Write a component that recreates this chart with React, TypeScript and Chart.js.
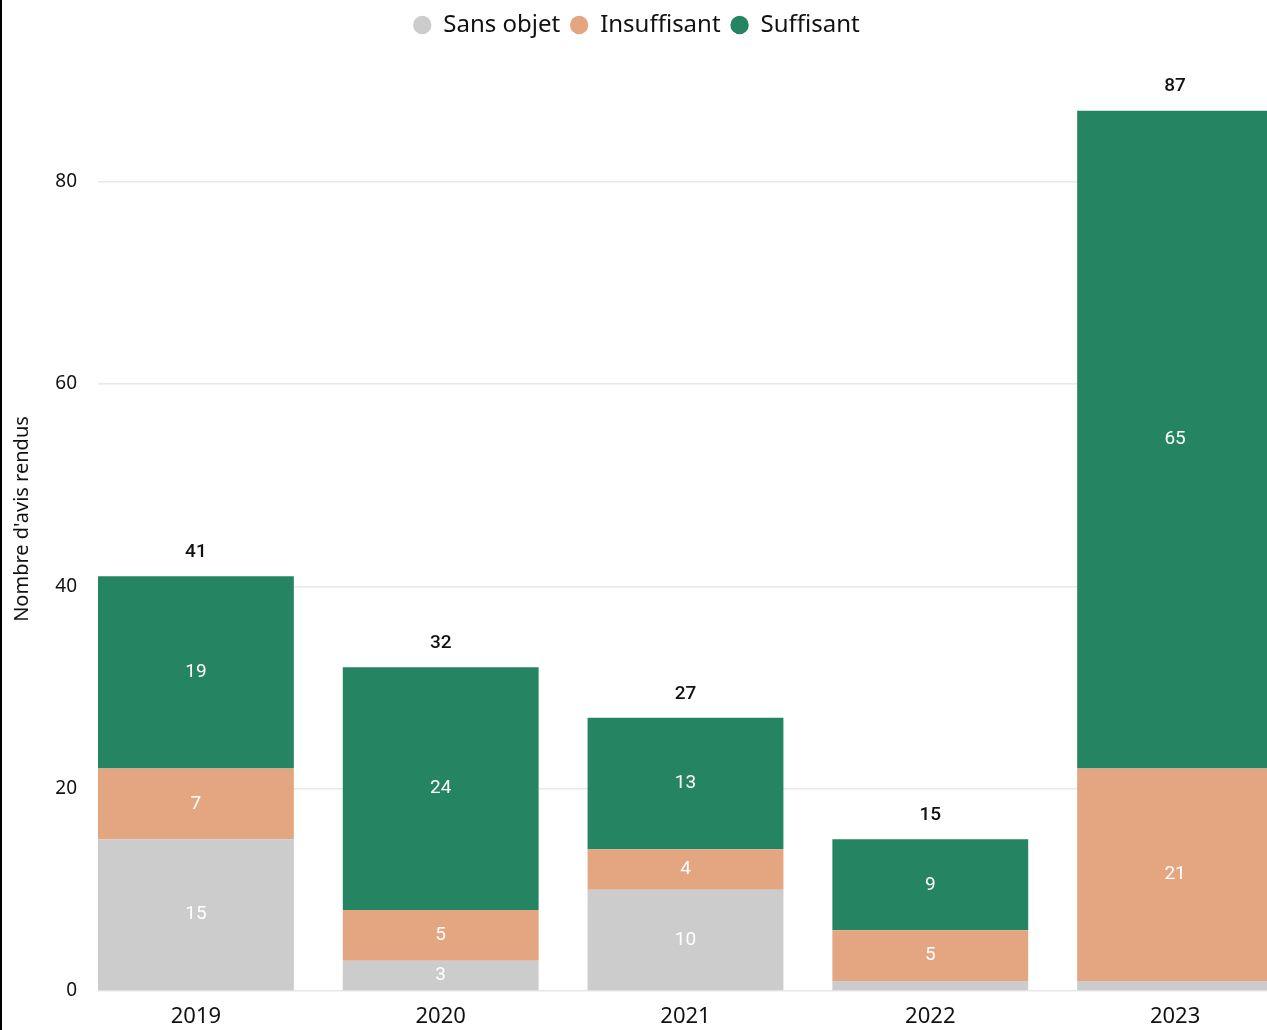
import React, { useEffect, useRef } from "react";
import { Chart, registerables } from "chart.js";

Chart.register(...registerables);

const YEARS = ["2019", "2020", "2021", "2022", "2023"];
const SANS_OBJET = [15, 3, 10, 1, 1];
const INSUFFISANT = [7, 5, 4, 5, 21];
const SUFFISANT = [19, 24, 13, 9, 65];
const Y_TICKS = [0, 20, 40, 60, 80];

const SERIES = [
  { label: "Sans objet", values: SANS_OBJET, color: "#CCCCCC" },
  { label: "Insuffisant", values: INSUFFISANT, color: "#E4A680" },
  { label: "Suffisant", values: SUFFISANT, color: "#258462" },
];

const BASE_FONT = "'Noto Sans', 'Open Sans', sans-serif";
const LABEL_FONT = "Roboto, 'Noto Sans', sans-serif";

const labelPlugin = {
  id: "barLabels",
  afterDatasetsDraw(chart: any) {
    const ctx = chart.ctx;
    ctx.save();
    ctx.textAlign = "center";
    ctx.textBaseline = "middle";
    ctx.font = `400 19px ${LABEL_FONT}`;
    chart.data.datasets.forEach((ds: any, di: number) => {
      const meta = chart.getDatasetMeta(di);
      meta.data.forEach((bar: any, i: number) => {
        const v = ds.data[i].y;
        const h = Math.abs(bar.base - bar.y);
        if (h < 18) return;
        ctx.fillStyle = "#FFFFFF";
        ctx.fillText(String(v), bar.x, (bar.y + bar.base) / 2);
      });
    });
    const lastMeta = chart.getDatasetMeta(chart.data.datasets.length - 1);
    ctx.font = `500 19px ${LABEL_FONT}`;
    ctx.fillStyle = "#111111";
    lastMeta.data.forEach((bar: any, i: number) => {
      const total = SERIES.reduce((s, se) => s + se.values[i], 0);
      ctx.fillText(String(total), bar.x, bar.y - 24);
    });
    ctx.restore();
  },
};

export default function App() {
  const ref = useRef<HTMLCanvasElement | null>(null);
  useEffect(() => {
    document.body.style.margin = "0";
    document.body.style.overflow = "hidden";
    if (!ref.current) return;
    const chart = new Chart(ref.current, {
      type: "bar",
      data: {
        datasets: SERIES.map((s) => ({
          label: s.label,
          data: s.values.map((v, i) => ({ x: i, y: v })),
          backgroundColor: s.color,
          borderWidth: 0,
          categoryPercentage: 1,
          barPercentage: 0.8,
        })),
      },
      options: {
        animation: false,
        responsive: false,
        maintainAspectRatio: false,
        layout: { padding: { top: 3, left: 0, right: 7, bottom: 0 } },
        plugins: {
          tooltip: { enabled: false },
          legend: {
            position: "top",
            labels: {
              usePointStyle: true,
              pointStyle: "circle",
              boxWidth: 18,
              boxHeight: 13,
              padding: 10,
              color: "#111111",
              font: { family: BASE_FONT, size: 24 },
            },
          },
        },
        scales: {
          x: {
            type: "linear",
            stacked: true,
            offset: false,
            min: -0.4,
            max: 4.4,
            grid: { display: false },
            border: { display: false },
            afterFit: (scale: any) => {
              scale.height = 39;
            },
            afterBuildTicks: (scale: any) => {
              scale.ticks = YEARS.map((_, i) => ({ value: i }));
            },
            ticks: {
              autoSkip: false,
              maxRotation: 0,
              padding: 5,
              color: "#111111",
              font: { family: BASE_FONT, size: 22 },
              callback: (v: any) => YEARS[v] ?? "",
            },
          },
          y: {
            stacked: true,
            min: 0,
            max: 93.3,
            afterFit: (scale: any) => {
              scale.width = 98;
            },
            afterBuildTicks: (scale: any) => {
              scale.ticks = Y_TICKS.map((v) => ({ value: v }));
            },
            grid: { color: "#E8E8E8", lineWidth: 1.5, drawTicks: false },
            border: { display: false },
            ticks: {
              padding: 21,
              color: "#111111",
              font: { family: BASE_FONT, size: 19 },
            },
            title: {
              display: true,
              text: "Nombre d'avis rendus",
              color: "#111111",
              padding: { top: 10, bottom: 0 },
              font: { family: BASE_FONT, size: 20 },
            },
          },
        },
      },
      plugins: [labelPlugin],
    } as any);
    return () => chart.destroy();
  }, []);

  return (
    <div
      style={{
        position: "fixed",
        left: 0,
        top: 0,
        width: 1267,
        height: 1030,
        overflow: "hidden",
        background: "#FFFFFF",
      }}
    >
      <canvas ref={ref} width={1280} height={1030} style={{ display: "block", width: 1280, height: 1030 }} />
      <div style={{ position: "absolute", left: 0, top: 0, width: 2, height: 1030, background: "#000000" }} />
    </div>
  );
}
